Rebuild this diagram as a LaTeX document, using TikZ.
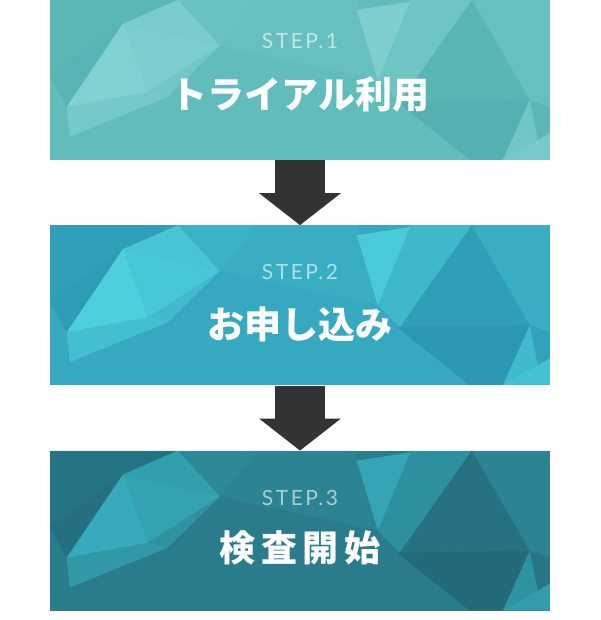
\documentclass[tikz,border=0pt]{standalone}
\usepackage{fontspec}
\usepackage{xcolor}
\usepackage{tikz}
\usetikzlibrary{positioning,arrows.meta}
\setmainfont{Lato}
\newfontfamily\jpfont{Noto Sans CJK JP}
\newfontfamily\jpwide{Noto Sans CJK JP}[LetterSpace=16]
\newfontfamily\stepfont{Lato}[LetterSpace=12]

\definecolor{baseA}{HTML}{62BCBC}
\definecolor{hiA}{HTML}{8ED9D9}
\definecolor{loA}{HTML}{4AA6A8}
\definecolor{baseB}{HTML}{36A8BF}
\definecolor{hiB}{HTML}{55DDE6}
\definecolor{loB}{HTML}{2288A3}
\definecolor{baseC}{HTML}{2A7C8C}
\definecolor{hiC}{HTML}{3ABCCB}
\definecolor{loC}{HTML}{1E5A6C}
\definecolor{arrowgray}{HTML}{333333}

% low-poly background of one box: #1 node, #2 light colour, #3 dark colour
\newcommand{\polyback}[3]{%
  \begin{scope}[shift={(#1.north west)}]
    \clip (0,0) rectangle (500,160);
    \fill[#3, opacity=.25] (0,0) -- (128,0) -- (73,24) -- (0,77) -- cycle;
    \fill[#3, opacity=.35] (0,77) -- (73,24) -- (17,107) -- cycle;
    \fill[#2, opacity=.55] (73,24) -- (128,0) -- (170,46) -- cycle;
    \fill[#2, opacity=.75] (73,24) -- (98,92) -- (17,107) -- cycle;
    \fill[#2, opacity=.6] (73,24) -- (170,46) -- (98,92) -- cycle;
    \fill[#2, opacity=.35] (98,92) -- (170,46) -- (118,97) -- cycle;
    \fill[#2, opacity=.45] (17,107) -- (98,92) -- (118,97) -- (20,137) -- cycle;
    \fill[#2, opacity=.2] (128,0) -- (207,0) -- (170,46) -- cycle;
    \fill[#2, opacity=.12] (170,46) -- (207,0) -- (307,0) -- (307,10) -- (328,80) -- cycle;
    \fill[#2, opacity=.65] (307,10) -- (360,2) -- (328,80) -- cycle;
    \fill[#2, opacity=.3] (360,0) -- (422,0) -- (350,102) -- (328,80) -- cycle;
    \fill[#3, opacity=.3] (350,102) -- (422,0) -- (480,100) -- cycle;
    \fill[#2, opacity=.12] (422,0) -- (500,0) -- (500,107) -- (480,100) -- cycle;
    \fill[#3, opacity=.5] (347,102) -- (480,100) -- (453,160) -- (420,160) -- cycle;
    \fill[#2, opacity=.35] (480,100) -- (488,140) -- (453,160) -- cycle;
    \fill[#2, opacity=.5] (488,140) -- (500,133) -- (500,160) -- (453,160) -- cycle;
    \fill[#3, opacity=.2] (480,100) -- (500,107) -- (500,133) -- (488,140) -- cycle;
  \end{scope}}

\begin{document}
\begin{tikzpicture}[x=1pt, y=-1pt,
    stepbox/.style={minimum width=500pt, minimum height=160pt, inner sep=0pt},
    steplabel/.style={text=white, text opacity=.6, font=\stepfont\fontsize{21}{24}\selectfont},
    stepname/.style={text=white, font=\jpfont\bfseries\fontsize{37}{40}\selectfont},
    flowarrow/.style={draw=arrowgray, line width=50pt, -{Triangle[width=80pt, length=32pt]}},
    node distance=65pt]
    \useasboundingbox (0,0) rectangle (600,620);

    \node[stepbox, fill=baseA] (step1) at (300,80) {};
    \node[stepbox, fill=baseB, below=of step1] (step2) {};
    \node[stepbox, fill=baseC, below=of step2] (step3) {};

    \polyback{step1}{hiA}{loA}
    \polyback{step2}{hiB}{loB}
    \polyback{step3}{hiC}{loC}

    \node[steplabel] (label1) at ([yshift=-41pt]step1.north) {STEP.1};
    \node[stepname] (name1) at ([yshift=-95pt]step1.north) {トライアル利用};
    \node[steplabel] (label2) at ([yshift=-47pt]step2.north) {STEP.2};
    \node[stepname] (name2) at ([yshift=-99pt]step2.north) {お申し込み};
    \node[steplabel] (label3) at ([yshift=-47pt]step3.north) {STEP.3};
    \node[stepname, font=\jpwide\bfseries\fontsize{36}{40}\selectfont] (name3) at ([yshift=-97pt]step3.north) {検査開始};

    \draw[flowarrow] (step1) -- (step2);
    \draw[flowarrow] (step2) -- (step3);
\end{tikzpicture}
\end{document}
